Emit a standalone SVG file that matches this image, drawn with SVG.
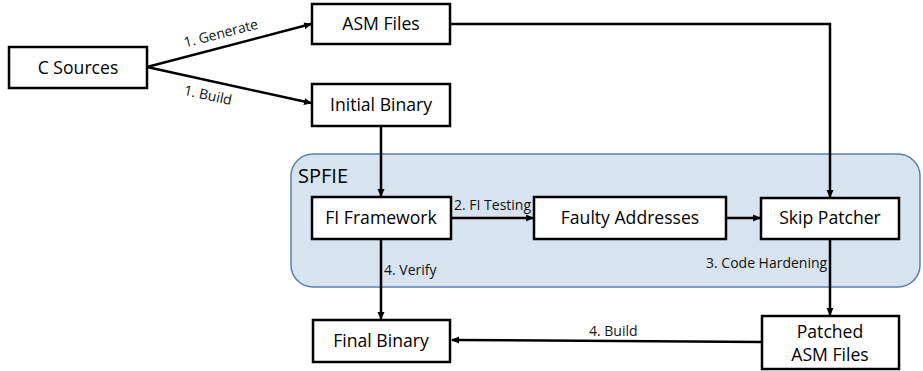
<svg xmlns="http://www.w3.org/2000/svg" width="923" height="371" viewBox="0 0 923 371">
<style>
.box{fill:#fff;stroke:#000;stroke-width:2.5}
.lbl{font-family:"Open Sans","Liberation Sans",sans-serif;font-size:17.6px;fill:#000;text-anchor:middle}
.edge{fill:none;stroke:#000;stroke-width:2.5}
.el{font-family:"Open Sans","Liberation Sans",sans-serif;font-size:14px;fill:#111}
</style>
<defs>
<marker id="ah" markerWidth="8" markerHeight="8" refX="7" refY="4" orient="auto" markerUnits="userSpaceOnUse">
<path d="M0,0.5 L8,4 L0,7.5 z" fill="#000"/>
</marker>
</defs>
<g id="spfie">
<rect x="291" y="154" width="629" height="133" rx="22" fill="#d8e3f0" stroke="#5a7fb0" stroke-width="1.5"/>
<text x="298" y="183" font-family="'Open Sans','Liberation Sans',sans-serif" font-size="20" fill="#000">SPFIE</text>
</g>
<g id="connectors">
<line class="edge" x1="147" y1="67" x2="311" y2="24" marker-end="url(#ah)"/>
<line class="edge" x1="147" y1="67" x2="311" y2="103" marker-end="url(#ah)"/>
<polyline class="edge" points="450,24 830,24 830,197" marker-end="url(#ah)"/>
<line class="edge" x1="381" y1="126" x2="381" y2="196" marker-end="url(#ah)"/>
<line class="edge" x1="451" y1="218" x2="533" y2="218" marker-end="url(#ah)"/>
<line class="edge" x1="726" y1="218" x2="760" y2="218" marker-end="url(#ah)"/>
<line class="edge" x1="830" y1="239" x2="830" y2="315" marker-end="url(#ah)"/>
<line class="edge" x1="381" y1="239" x2="381" y2="319" marker-end="url(#ah)"/>
<line class="edge" x1="762" y1="342" x2="452" y2="340" marker-end="url(#ah)"/>
<text class="el" transform="translate(222,38) rotate(-14.6)" text-anchor="middle">1. Generate</text>
<text class="el" transform="translate(207,100) rotate(12.3)" text-anchor="middle">1. Build</text>
<text class="el" x="454" y="210">2. FI Testing</text>
<text class="el" x="384" y="275">4. Verify</text>
<text class="el" x="706" y="268">3. Code Hardening</text>
<text class="el" x="589" y="336">4. Build</text>
</g>
<g id="c-sources"><rect class="box" x="9" y="47" width="138" height="41"/><text class="lbl" x="78" y="74">C Sources</text></g>
<g id="asm-files"><rect class="box" x="312" y="4" width="138" height="40"/><text class="lbl" x="381" y="30">ASM Files</text></g>
<g id="initial-binary"><rect class="box" x="312" y="84" width="138" height="42"/><text class="lbl" x="381" y="111">Initial Binary</text></g>
<g id="fi-framework"><rect class="box" x="312" y="197" width="139" height="42"/><text class="lbl" x="381" y="224">FI Framework</text></g>
<g id="faulty-addresses"><rect class="box" x="534" y="197" width="192" height="42"/><text class="lbl" x="630" y="224">Faulty Addresses</text></g>
<g id="skip-patcher"><rect class="box" x="761" y="198" width="138" height="41"/><text class="lbl" x="830" y="224">Skip Patcher</text></g>
<g id="patched-asm"><rect class="box" x="762" y="316" width="137" height="53"/><text class="lbl" x="830" y="338">Patched</text><text class="lbl" x="830" y="361">ASM Files</text></g>
<g id="final-binary"><rect class="box" x="313" y="320" width="137" height="42"/><text class="lbl" x="381" y="347">Final Binary</text></g>
</svg>
